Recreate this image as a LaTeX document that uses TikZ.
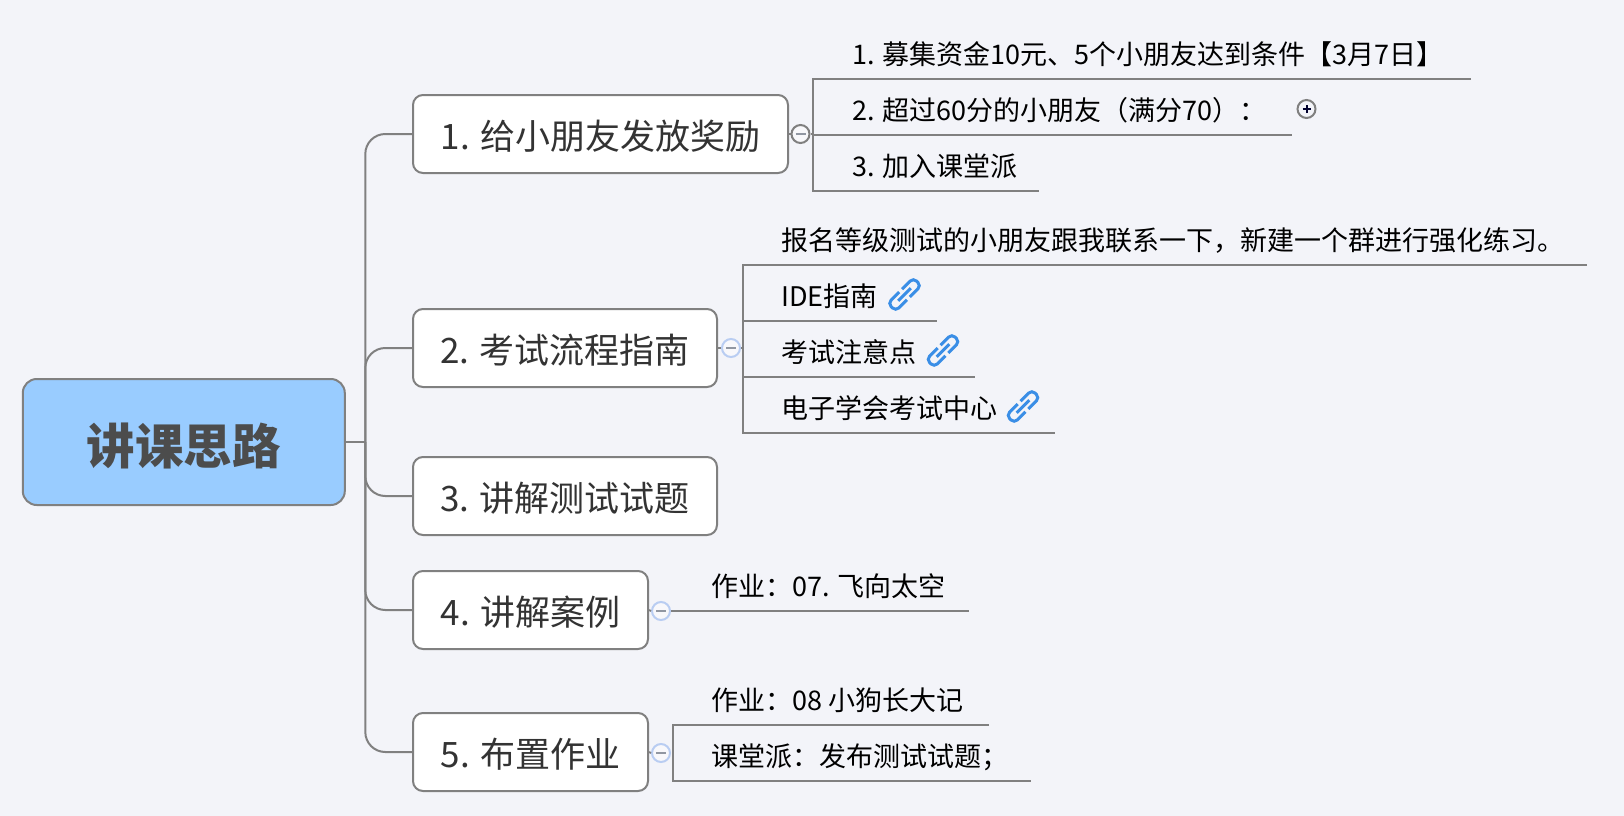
\documentclass[tikz,border=0pt]{standalone}
\usepackage{fontspec}
\setmainfont{Noto Sans CJK SC}
\definecolor{pagebg}{HTML}{F3F4F9}
\definecolor{rootblue}{HTML}{99CCFF}
\definecolor{edgegray}{HTML}{808080}
\definecolor{foldblue}{HTML}{B9CDF2}
\definecolor{linkblue}{HTML}{3A8EE6}
\tikzset{
  rootbox/.style={draw=edgegray, line width=2pt, fill=rootblue, rounded corners=14pt,
    minimum width=322pt, minimum height=126pt, inner sep=0pt, text=black!70,
    text height=44pt, text depth=0pt,
    font=\fontsize{48.5}{54}\selectfont\bfseries},
  topicbox/.style={draw=edgegray, line width=2pt, fill=white, rounded corners=10pt,
    minimum height=78pt, inner sep=0pt, text=black!80,
    text height=30pt, text depth=0pt,
    font=\fontsize{35}{40}\selectfont},
  subtext/.style={anchor=base west, inner sep=0pt, text=black,
    font=\fontsize{27}{30}\selectfont},
  branch/.style={draw=edgegray, line width=2pt},
  foldminus/.style={circle, draw=foldblue, line width=2pt, fill=pagebg!60!white,
    minimum size=18pt, inner sep=0pt,
    path picture={\draw[edgegray!70!foldblue, line width=2pt]
      ([xshift=-5pt]path picture bounding box.center) -- ([xshift=5pt]path picture bounding box.center);}},
  foldplus/.style={circle, draw=edgegray, line width=2pt, fill=pagebg,
    minimum size=18pt, inner sep=0pt,
    path picture={\draw[black!70!blue!60!black, line width=2pt]
      ([xshift=-4pt]path picture bounding box.center) -- ([xshift=4pt]path picture bounding box.center)
      ([yshift=-4pt]path picture bounding box.center) -- ([yshift=4pt]path picture bounding box.center);}},
  linkicon/.pic={
    \begin{scope}[rotate=45, linkblue, line width=3pt, rounded corners=4.5pt]
      \draw (-2,-5.5) -- (-18,-5.5) -- (-18,5.5) -- (-2,5.5);
      \draw (2,-5.5) -- (18,-5.5) -- (18,5.5) -- (2,5.5);
      \draw (-9,0) -- (9,0);
    \end{scope}
  }
}
\begin{document}
\begin{tikzpicture}[x=1pt, y=-1pt]
    \fill[pagebg] (0,0) rectangle (1624,816);
    \useasboundingbox (0,0) rectangle (1624,816);

    % Raiz y ramas principales
    \node[rootbox] (root) at (183.8,442) {讲课思路};
    \node[topicbox, minimum width=375pt] (t1) at (600.5,134) {1. 给小朋友发放奖励};
    \node[topicbox, minimum width=304pt] (t2) at (565,348) {2. 考试流程指南};
    \node[topicbox, minimum width=304pt] (t3) at (565,496) {3. 讲解测试试题};
    \node[topicbox, minimum width=235pt] (t4) at (530.5,610) {4. 讲解案例};
    \node[topicbox, minimum width=235pt] (t5) at (530.5,752) {5. 布置作业};

    \coordinate (spine) at (365.3,442);
    \draw[branch] (root.east) -- (spine);
    \foreach \t in {t1,t2,t3,t4,t5} {
      \draw[branch, rounded corners=20pt] (spine) |- (\t.west);
    }

    % --- Rama 1 ---
    \node[foldminus, draw=edgegray] (f1) at (800.5,134) {};
    \draw[branch] (t1.east) -- (f1.west);
    \coordinate (c1a) at (813,79);
    \coordinate (c1b) at (813,135);
    \coordinate (c1c) at (813,191);
    \coordinate (e1a) at (1471,79);
    \coordinate (e1b) at (1292,135);
    \coordinate (e1c) at (1039,191);
    \draw[branch] (f1.east) -- (f1.east -| c1b);
    \draw[branch] (e1a) -- (c1a) -- (c1c) -- (e1c);
    \draw[branch] (c1b) -- (e1b);
    \node[subtext] (s11) at (852,64) {1. 募集资金10元、5个小朋友达到条件【3月7日】};
    \node[subtext] (s12) at (852,120) {2. 超过60分的小朋友（满分70）：};
    \node[subtext] (s13) at (852,176) {3. 加入课堂派};
    \node[foldplus] (p12) at (1306.5,109) {};

    % --- Rama 2 ---
    \node[foldminus] (f2) at (731,348) {};
    \draw[branch] (t2.east) -- (f2.west);
    \coordinate (c2a) at (743,264.7);
    \coordinate (c2b) at (743,320.7);
    \coordinate (c2c) at (743,376.7);
    \coordinate (c2d) at (743,432.7);
    \coordinate (c2m) at (743,348);
    \coordinate (e2a) at (1587,264.7);
    \coordinate (e2b) at (936.7,320.7);
    \coordinate (e2c) at (975,376.7);
    \coordinate (e2d) at (1055,432.7);
    \draw[branch] (f2.east) -- (c2m);
    \draw[branch] (e2a) -- (c2a) -- (c2d) -- (e2d);
    \draw[branch] (c2b) -- (e2b);
    \draw[branch] (c2c) -- (e2c);
    \node[subtext] (s21) at (781,250) {报名等级测试的小朋友跟我联系一下，新建一个群进行强化练习。};
    \node[subtext] (s22) at (781,306) {IDE指南};
    \node[subtext] (s23) at (781,362) {考试注意点};
    \node[subtext] (s24) at (781,418) {电子学会考试中心};
    \pic at (904.5,294.5) {linkicon};
    \pic at (943,350.5) {linkicon};
    \pic at (1023,406.5) {linkicon};

    % --- Rama 4 ---
    \node[foldminus] (f4) at (661,611) {};
    \draw[branch] (t4.east) -- (f4.west);
    \coordinate (e4a) at (969,611);
    \draw[branch] (f4.east) -- (e4a);
    \node[subtext] (s41) at (711,596) {作业：07. 飞向太空};

    % --- Rama 5 ---
    \node[foldminus] (f5) at (661,753) {};
    \draw[branch] (t5.east) -- (f5.west);
    \coordinate (c5a) at (673,725);
    \coordinate (c5b) at (673,781);
    \coordinate (e5a) at (989,725);
    \coordinate (e5b) at (1031,781);
    \draw[branch] (e5a) -- (c5a) -- (c5b) -- (e5b);
    \node[subtext] (s51) at (711,710) {作业：08 小狗长大记};
    \node[subtext] (s52) at (711,766) {课堂派：发布测试试题；};
\end{tikzpicture}
\end{document}
